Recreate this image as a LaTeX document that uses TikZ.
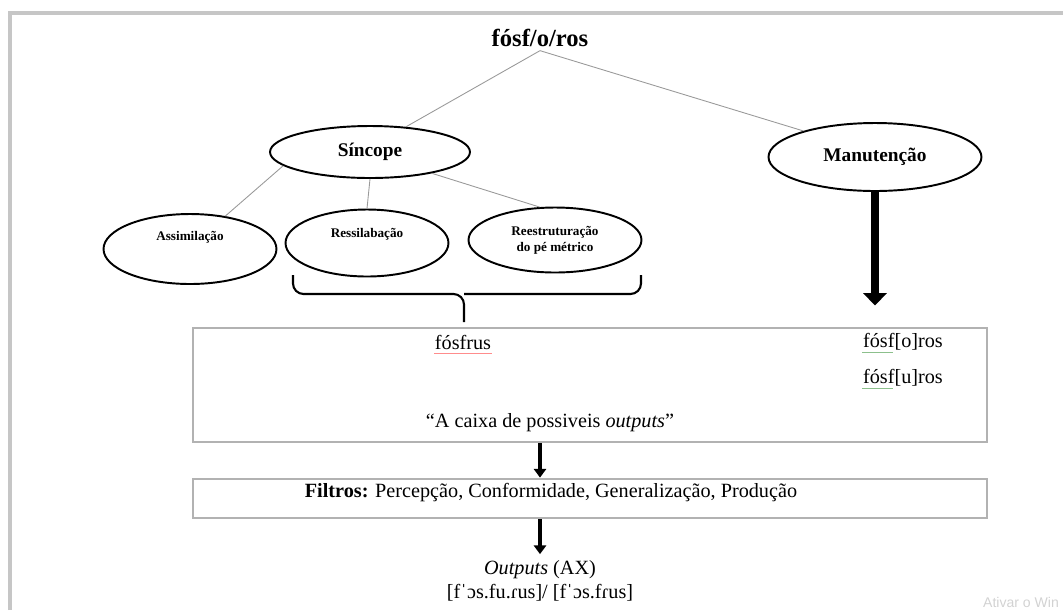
\documentclass[tikz,border=0pt]{standalone}
\usepackage{fontspec}
\setmainfont{Liberation Serif}
\newfontfamily\winfont{Liberation Sans}
\usetikzlibrary{arrows.meta,shapes.geometric}

\begin{document}
\begin{tikzpicture}[x=0.02cm,y=-0.02cm,
  oval/.style={ellipse,draw,line width=1.1pt,inner sep=0pt,font=\bfseries\fontsize{11}{13}\selectfont},
  smalloval/.style={oval,font=\bfseries\fontsize{7.5}{9}\selectfont,align=center},
  branch/.style={draw=gray!80,line width=0.5pt},
  panel/.style={draw=gray!60,line width=1.6pt,inner sep=0pt},
  body/.style={font=\fontsize{11.5}{14}\selectfont},
  bigarrow/.style={line width=5pt,-{Triangle[width=13pt,length=7pt]}},
  arrow/.style={line width=2.2pt,-{Triangle[width=7pt,length=5pt]}}]

  \useasboundingbox (0,0) rectangle (1063,610);
  % frame of the screenshot
  \draw[gray!45,line width=1.8pt] (10,610) -- (10,13) -- (1063,13);

  \node[font=\bfseries\fontsize{14}{16}\selectfont,inner sep=2pt] (root) at (540,38) {fósf/o/ros};

  % the two ways
  \node[oval,minimum width=4cm,minimum height=1.04cm] (sin) at (370,152) {Síncope};
  \node[oval,minimum width=4.26cm,minimum height=1.36cm] (man) at (875,157) {Manutenção};

  \node[smalloval,minimum width=3.46cm,minimum height=1.4cm,text height=6pt,text depth=16pt] (ass) at (190,249) {Assimilação};
  \node[smalloval,minimum width=3.26cm,minimum height=1.34cm,text height=6pt,text depth=12pt] (res) at (367,243) {Ressilabação};
  \node[smalloval,minimum width=3.46cm,minimum height=1.3cm] (ree) at (555,240) {Reestruturação\\do pé métrico};

  \draw[branch] (root.south) -- (sin.35);
  \draw[branch] (root.south) -- (man.160);
  \draw[branch] (sin.189) -- (ass.43);
  \draw[branch] (sin.south) -- (res.north);
  \draw[branch] (sin.-19) -- (ree.115);

  % brace under the two last ones
  \draw[line width=1.2pt,rounded corners=6pt] (293,275) |- (464,294) -- (464,322);
  \draw[line width=1.2pt,rounded corners=6pt] (641,275) |- (464,294);

  % boxes
  \node[panel,minimum width=15.88cm,minimum height=2.28cm] (cx) at (590,385) {};
  \node[panel,minimum width=15.88cm,minimum height=0.78cm] (filt) at (590,498.5) {};

  \node[body] (w1) at (463,342) {fósfrus};
  \node[body] (w2) at (903,342) {fósf[o]ros};
  \node[body] (w3) at (903,378) {fósf[u]ros};
  \node[body] (cap) at (550,423) {“A caixa de possiveis \textit{outputs}”};
  \draw[red!45,line width=0.6pt] ([yshift=-2.5pt,xshift=3pt]w1.base west) -- ([yshift=-2.5pt,xshift=-3pt]w1.base east);
  \draw[green!45!black!45,line width=0.6pt] ([yshift=-2.5pt,xshift=3pt]w2.base west) -- +(31,0);
  \draw[green!45!black!45,line width=0.6pt] ([yshift=-2.5pt,xshift=3pt]w3.base west) -- +(31,0);

  \node[body] (ftxt) at (551,493) {\textbf{Filtros:} Percepção, Conformidade, Generalização, Produção};

  \node[body,align=center] (out) at (540,581) {\textit{Outputs} (AX)\\{}[fˈɔs.fu.ɾus]/ [fˈɔs.fɾus]};

  \draw[bigarrow,shorten >=12pt] (man.south) -- (man.south |- cx.north);
  \draw[arrow] (cx.south -| root) -- (filt.north -| root);
  \draw[arrow] (filt.south -| root) -- (out.north);

  \node[anchor=east,text=gray!35,font=\winfont\fontsize{8}{9}\selectfont,inner sep=1pt] (wm) at (1061,602) {Ativar o Win};
\end{tikzpicture}
\end{document}
